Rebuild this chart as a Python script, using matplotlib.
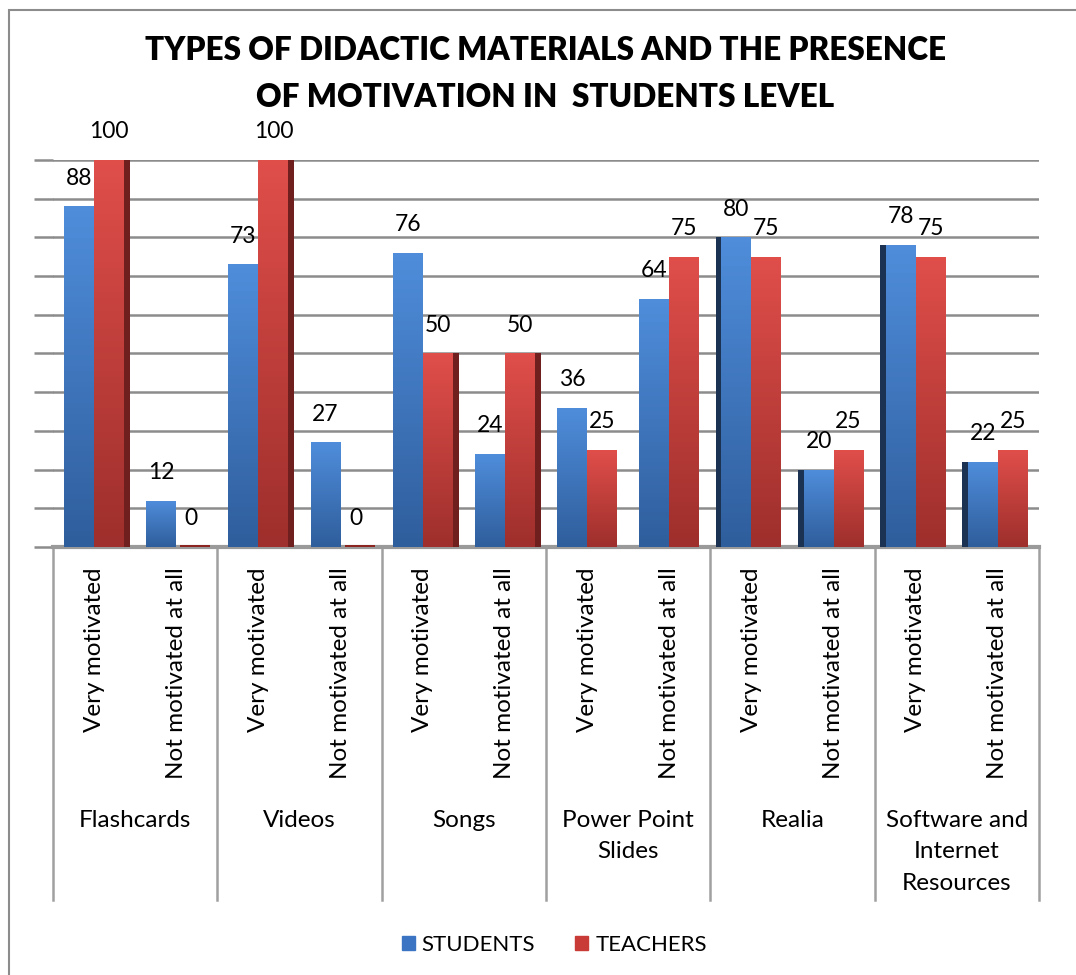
import numpy as np
import matplotlib
matplotlib.use('Agg')
import matplotlib.pyplot as plt
from matplotlib.patches import Patch, Rectangle
import matplotlib.transforms as mtransforms

##--- datos
groups = ['Flashcards', 'Videos', 'Songs', 'Power Point\nSlides', 'Realia',
          'Software and\nInternet\nResources']
levels = ['Very motivated', 'Not motivated at all']
students = [88, 12, 73, 27, 76, 24, 36, 64, 80, 20, 78, 22]
teachers = [100, 0, 100, 0, 50, 50, 25, 75, 75, 25, 75, 25]

plt.rcParams['font.family'] = ['Lato', 'DejaVu Sans']

fig = plt.figure(figsize=(10.76, 9.75), dpi=100)
ax = fig.add_axes([0.0493, 0.439, 0.9163, 0.397])

x = np.arange(len(students))
w = 0.365

bs = ax.bar(x - w/2, students, w, color='#3b74c2', zorder=3)
bt = ax.bar(x + w/2, teachers, w, color='#c83b37', zorder=3)


def gradient(bars, top, bottom):
    c1 = np.array(matplotlib.colors.to_rgb(top))
    c2 = np.array(matplotlib.colors.to_rgb(bottom))
    g = np.linspace(0, 1, 64)[:, None]
    img = (c1 * (1 - g) + c2 * g)[:, None, :]
    for b in bars:
        x0, y0 = b.get_x(), b.get_y()
        h = b.get_height()
        if h <= 0:
            continue
        im = ax.imshow(img, extent=[x0, x0 + b.get_width(), y0, y0 + h],
                       aspect='auto', zorder=3.5, origin='upper')
        im.set_clip_path(b)


gradient(bs, '#4f8ddb', '#2f5e9c')
gradient(bt, '#e04e4a', '#9e2f2c')

# caras laterales oscuras (efecto 3D)
side = 0.07
for i in range(len(x)):
    if i < 6:
        ax.bar(x[i] + w + side/2, teachers[i], side, color='#6e1f1e', zorder=3)
    if i >= 8:
        ax.bar(x[i] - w - side/2, students[i], side, color='#1b3252', zorder=3)
# barras en cero
for i, v in enumerate(teachers):
    if v == 0:
        ax.bar(x[i] + w/2 + 0.05, 0.6, w, color='#8a2522', zorder=3)

# etiquetas de valores
for i in range(len(x)):
    ax.text(x[i] - w/2, students[i] + 7.3, str(students[i]), ha='center',
            va='center', fontsize=16.5, zorder=5, clip_on=False)
    ax.text(x[i] + w/2, teachers[i] + 7.3, str(teachers[i]), ha='center',
            va='center', fontsize=16.5, zorder=5, clip_on=False)

ax.set_xlim(-0.5, 11.5)
ax.set_ylim(0, 100)
ax.set_yticks(np.arange(0, 101, 10))
ax.set_yticklabels([])
ax.yaxis.grid(True, color='#8c8c8c', lw=1.8, zorder=0)
ax.set_axisbelow(True)
ax.tick_params(axis='y', length=14, width=1.8, color='#8c8c8c', direction='out')
ax.set_xticks([])
for s in ['left', 'right', 'top']:
    ax.spines[s].set_visible(False)
ax.spines['bottom'].set_color('#9a9a9a')
ax.spines['bottom'].set_linewidth(3)

trans = mtransforms.blended_transform_factory(ax.transData, ax.transAxes)
for b in np.arange(-0.5, 12, 2):
    ax.plot([b, b], [0, -0.912], transform=trans, color='#a0a0a0', lw=1.8,
            clip_on=False)

for i in range(len(x)):
    ax.text(x[i], -0.052, levels[i % 2], rotation=90, ha='center', va='top',
            fontsize=17.5, transform=trans, clip_on=False)
for j, g in enumerate(groups):
    ax.text(2*j + 0.5, -0.68, g, ha='center', va='top', fontsize=17.5,
            linespacing=1.6, transform=trans, clip_on=False)

fig.text(0.507, 0.924, 'TYPES OF DIDACTIC MATERIALS AND THE PRESENCE\nOF MOTIVATION IN  STUDENTS LEVEL',
         ha='center', va='center', fontsize=22.7, fontweight='heavy',
         linespacing=1.75)

handles = [Patch(color='#3b74c2'), Patch(color='#c83b37')]
fig.legend(handles, ['STUDENTS', 'TEACHERS'], loc='center',
           bbox_to_anchor=(0.515, 0.031), ncol=2, frameon=False, fontsize=16,
           handlelength=0.6, handleheight=0.6, handletextpad=0.3,
           columnspacing=1.8)

fig.patches.append(Rectangle((9/1076, -0.01), 1.0, 0.005 + 1 - 5/975,
                             transform=fig.transFigure, fill=False,
                             edgecolor='#8c8c8c', lw=1.5))

plt.savefig('out.png', dpi=100)
